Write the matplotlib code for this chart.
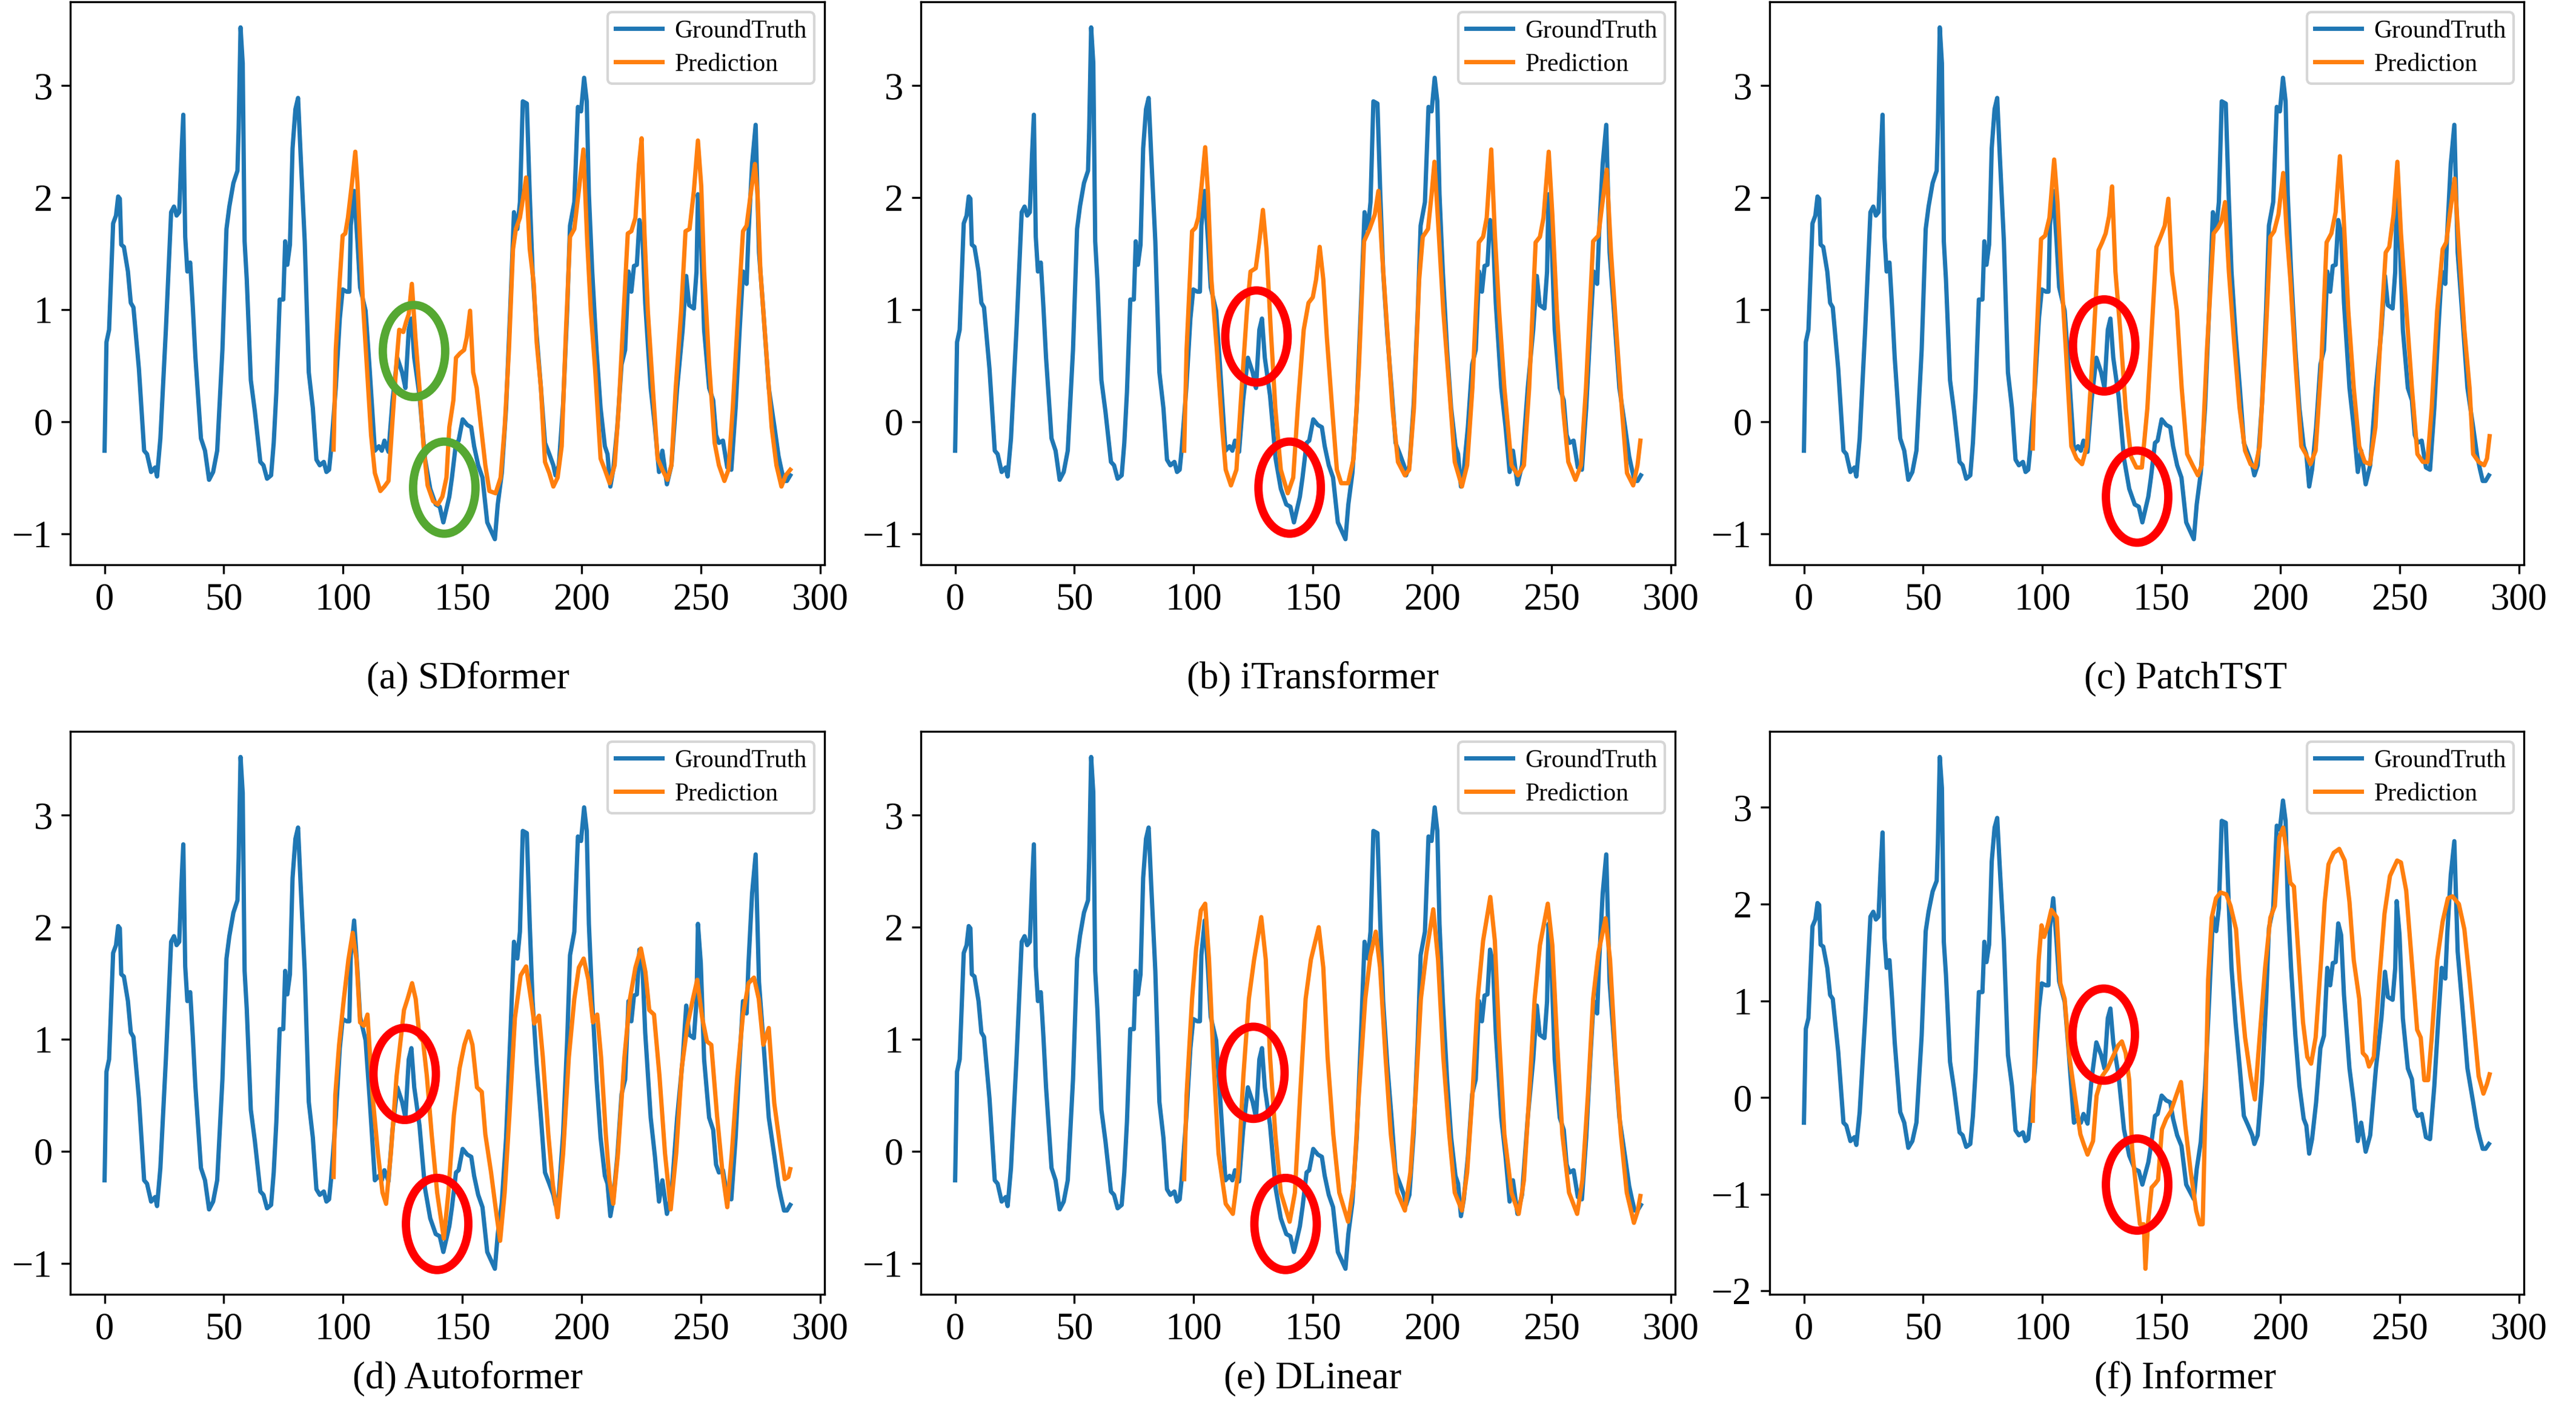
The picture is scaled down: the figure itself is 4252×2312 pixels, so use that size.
import matplotlib
matplotlib.use("Agg")
import matplotlib.pyplot as plt
from matplotlib.patches import Ellipse

# Times-like serif for everything
plt.rcParams['font.family'] = ['Liberation Serif', 'DejaVu Serif']

ground_truth = [
    (0, -0.26), (0.8, 0.71), (1.9, 0.82), (3.6, 1.77), (4.8, 1.84), (5.7, 2.01), (6.4, 1.99),
    (7, 1.58), (8.1, 1.56), (9.8, 1.34), (11, 1.06), (12.1, 1.02), (14.4, 0.47), (16.6, -0.26),
    (17.8, -0.29), (19.5, -0.45), (21.2, -0.41), (22, -0.49), (23.4, -0.15), (25.7, 0.82),
    (27.9, 1.87), (29.1, 1.92), (30.2, 1.84), (31.3, 1.87), (32.2, 2.37), (33, 2.74), (33.8, 1.65),
    (34.7, 1.34), (35.9, 1.42), (37, 1.02), (38.1, 0.57), (40.4, -0.15), (42.1, -0.26),
    (43.8, -0.52), (45.5, -0.45), (47.2, -0.26), (49.4, 0.64), (51.1, 1.72), (52.3, 1.92),
    (54, 2.13), (55.7, 2.24), (56.2, 2.62), (57, 3.52), (57.9, 3.2), (58.7, 1.61), (59.6, 1.27),
    (61.3, 0.37), (63, 0.09), (65.3, -0.36), (66.6, -0.39), (68.1, -0.51), (69.8, -0.48),
    (70.9, -0.19), (72, 0.26), (73.4, 1.09), (74.9, 1.09), (75.7, 1.61), (76.6, 1.4), (77.7, 1.58),
    (78.8, 2.44), (80, 2.79), (81.1, 2.89), (82.2, 2.37), (83.9, 1.61), (85.6, 0.44), (87.3, 0.12),
    (88.8, -0.34), (90.2, -0.39), (91.9, -0.36), (93, -0.45), (94.1, -0.43), (94.9, -0.26),
    (96.9, 0.3), (98.6, 0.92), (99.8, 1.18), (101.5, 1.16), (102.6, 1.16), (103.2, 1.75),
    (104.6, 2.06), (106, 1.61), (107.1, 1.2), (109.4, 0.99), (111.1, 0.47), (113.3, -0.26),
    (115, -0.22), (116.2, -0.26), (117.3, -0.17), (119, -0.27), (120.7, 0.19), (122.7, 0.57),
    (124.7, 0.44), (126.1, 0.3), (127.5, 0.82), (128.6, 0.92), (129.8, 0.57), (132, 0.23),
    (134.3, -0.33), (136.5, -0.6), (138.8, -0.74), (140.5, -0.76), (142, -0.9), (143.3, -0.78),
    (144.5, -0.67), (145.6, -0.5), (147.3, -0.19), (148.4, -0.17), (150.1, 0.02), (152, -0.03),
    (153.7, -0.05), (154.9, -0.22), (156.6, -0.39), (158.4, -0.5), (160.4, -0.9), (161.9, -0.97),
    (163.6, -1.05), (164.8, -0.74), (166.5, -0.46), (168.3, 0.12), (170, 0.99), (171.6, 1.87),
    (173, 1.72), (174.1, 1.96), (175.3, 2.86), (177, 2.84), (178.2, 2.03), (179.4, 1.34),
    (181.1, 0.78), (182.9, 0.3), (184.6, -0.19), (186.4, -0.29), (188.1, -0.39), (189, -0.48),
    (190.4, -0.39), (192.2, 0.16), (193.9, 0.99), (195.1, 1.75), (196.9, 1.96), (198.4, 2.81),
    (199.7, 2.77), (201, 3.07), (202.1, 2.86), (203, 2.03), (204.4, 1.34), (206.2, 0.64),
    (207.9, 0.12), (209.7, -0.22), (210.8, -0.29), (212, -0.58), (213.2, -0.43), (214.9, -0.05),
    (216.7, 0.51), (218.2, 0.64), (219.6, 1.34), (220.8, 1.16), (221.9, 1.39), (223.1, 1.4),
    (224.2, 1.8), (225.4, 1.68), (226.6, 1.06), (228.9, 0.3), (230.7, -0.05), (232.4, -0.45),
    (233.8, -0.26), (235.7, -0.56), (237.6, -0.39), (240, 0.3), (242.3, 0.82), (243.8, 1.3),
    (245, 1.04), (247, 1.01), (248.1, 1.34), (248.7, 2.03), (249.9, 1.68), (251.3, 0.82),
    (253.4, 0.3), (255.1, 0.19), (256.3, -0.12), (257.5, -0.19), (259.2, -0.17), (261, -0.41),
    (262.7, -0.43), (264.5, 0.12), (266.2, 0.82), (267.6, 1.34), (269.1, 1.23), (269.9, 1.68),
    (271.4, 2.3), (272.9, 2.65), (274.3, 1.51), (276.1, 0.99), (278.4, 0.3), (280.8, -0.05),
    (282.5, -0.31), (283.7, -0.43), (284.8, -0.53), (286, -0.53), (287.4, -0.48),
]

# predictions of each model (start at step 96)
sdformer = [
    (96, -0.25), (96.9, 0.64), (98.6, 1.27), (99.8, 1.66), (100.9, 1.68), (102, 1.82), (103.7, 2.13),
    (105.1, 2.41), (106, 2.13), (107.1, 1.61), (108.3, 1.06), (110, 0.47), (111.7, -0.12),
    (113.3, -0.46), (115.6, -0.62), (117.3, -0.58), (119, -0.53), (120.5, -0.05), (122.4, 0.54),
    (123.5, 0.82), (125.2, 0.8), (126.4, 0.89), (127.5, 0.96), (128.8, 1.23), (130.3, 0.75),
    (132, 0.3), (133.7, -0.22), (135.4, -0.57), (137.7, -0.71), (139.7, -0.74), (141.6, -0.67),
    (143.3, -0.5), (144.5, -0.05), (146.2, 0.19), (147.3, 0.57), (149, 0.61), (150.7, 0.64),
    (151.8, 0.75), (153.2, 0.99), (154.5, 0.44), (156, 0.3), (157.8, -0.05), (159.6, -0.39),
    (161.3, -0.62), (163.9, -0.64), (166, -0.5), (167.7, -0.05), (169.5, 0.64), (171.2, 1.54),
    (172.4, 1.72), (174.1, 1.82), (175.9, 2.06), (176.7, 2.18), (178.2, 1.54), (179.9, 1.23),
    (181.1, 0.71), (182.9, 0.3), (184.6, -0.36), (186.4, -0.46), (188.1, -0.58), (189.9, -0.5),
    (191.6, -0.22), (193.4, 0.82), (195.1, 1.65), (196.9, 1.72), (198.6, 2.03), (200.7, 2.43),
    (202.3, 1.61), (203.8, 0.99), (205.6, 0.47), (207.9, -0.33), (209.7, -0.43), (211.7, -0.55),
    (213.8, -0.39), (215.5, 0.12), (217.2, 0.82), (219.3, 1.68), (220.8, 1.7), (222.5, 1.82),
    (224, 2.3), (225.1, 2.53), (226.3, 1.68), (227.7, 0.99), (229.8, 0.3), (231.8, -0.33),
    (233.8, -0.43), (235.9, -0.52), (237.6, -0.39), (239.4, 0.3), (241.7, 0.99), (243.5, 1.7),
    (245.2, 1.72), (247, 2.06), (248.7, 2.51), (250.1, 2.1), (251.3, 1.34), (253.4, 0.51),
    (255.7, -0.19), (257.5, -0.39), (259.8, -0.53), (261.5, -0.43), (263.3, 0.12), (265.6, 0.99),
    (267.6, 1.7), (269.1, 1.75), (270.8, 2.03), (272.6, 2.3), (273.7, 2.03), (274.9, 1.34),
    (277.3, 0.64), (279.6, -0.05), (281.6, -0.39), (283.7, -0.58), (285.5, -0.48), (287.4, -0.43),
]

itransformer = [
    (96, -0.26), (97, 0.64), (99.3, 1.7), (100.7, 1.73), (101.9, 1.82), (103.4, 2.13), (104.8, 2.45),
    (106, 2.03), (107.4, 1.27), (109.7, 0.64), (111.9, -0.05), (113.4, -0.43), (115.6, -0.57),
    (117.9, -0.43), (120.1, 0.3), (122.3, 0.99), (123.8, 1.34), (126, 1.37), (127.5, 1.61),
    (129, 1.89), (130.5, 1.54), (132.3, 0.82), (134.2, 0.12), (136.5, -0.43), (139.4, -0.64),
    (141.7, -0.5), (143.6, 0.12), (146.1, 0.82), (148.1, 1.06), (149.9, 1.11), (151.3, 1.27),
    (152.8, 1.56), (154.3, 1.27), (155.8, 0.75), (158, 0.12), (160, -0.43), (161.8, -0.55),
    (164.7, -0.55), (167, -0.33), (169.2, 0.47), (171.4, 1.61), (173.7, 1.72), (175.9, 1.85),
    (177.4, 2.06), (178.9, 1.51), (181.1, 0.82), (183.3, 0.12), (185.6, -0.36), (188.5, -0.48),
    (190.3, -0.43), (192.3, 0.12), (194.5, 1.27), (196, 1.65), (198.2, 1.72), (199.7, 2.03),
    (200.9, 2.32), (202.7, 1.68), (204.6, 0.99), (207.1, 0.3), (209.4, -0.36), (212.4, -0.58),
    (214.6, -0.39), (216.8, 0.3), (219.5, 1.6), (221.3, 1.65), (222.8, 1.82), (224.7, 2.43),
    (226.2, 1.68), (228, 0.99), (230.2, 0.3), (233.2, -0.39), (235.9, -0.48), (238.4, -0.39),
    (240.6, 0.3), (243.3, 1.6), (245.1, 1.65), (246.6, 1.82), (248.8, 2.41), (250.3, 1.85),
    (252.2, 0.99), (254.8, 0.12), (257, -0.36), (260, -0.52), (262.3, -0.39), (264.4, 0.3),
    (267.4, 1.61), (269.6, 1.66), (271.1, 1.92), (273.1, 2.25), (274.9, 1.51), (277.1, 0.82),
    (279.4, 0.12), (281.6, -0.46), (284.2, -0.57), (286, -0.39), (287.2, -0.17),
]

patchtst = [
    (96, -0.24), (97, 0.47), (99.5, 1.63), (101.2, 1.66), (103, 1.82), (105, 2.34), (106.4, 1.96),
    (107.9, 1.34), (109.9, 0.64), (112.2, -0.22), (114.4, -0.33), (116.7, -0.38), (118.7, -0.22),
    (121.3, 0.64), (123.6, 1.53), (125.1, 1.6), (126.6, 1.68), (128.1, 1.84), (129.3, 2.1),
    (130.7, 1.34), (132.7, 0.82), (135, 0.12), (137.2, -0.31), (139.5, -0.41), (141.8, -0.41),
    (144.1, 0.12), (146.4, 0.99), (147.9, 1.56), (149.8, 1.66), (151.4, 1.75), (152.9, 1.99),
    (154.4, 1.34), (156.5, 0.99), (158.5, 0.3), (160.8, -0.29), (163.1, -0.39), (165.3, -0.48),
    (166.9, -0.39), (169.1, 0.64), (171.9, 1.68), (173.7, 1.73), (175.2, 1.79), (176.7, 1.96),
    (178.3, 1.34), (180.5, 0.71), (182.8, 0.12), (185.1, -0.26), (187.4, -0.38), (189.4, -0.41),
    (191.2, -0.22), (193.5, 0.64), (195.7, 1.65), (197.3, 1.7), (199.1, 1.85), (201.1, 2.22),
    (202.6, 1.68), (204.1, 1.27), (206.4, 0.47), (208.7, -0.22), (210.6, -0.29), (212.5, -0.38),
    (214.7, -0.26), (217, 0.47), (219.3, 1.6), (221.3, 1.68), (223.1, 1.87), (224.9, 2.37),
    (226.4, 1.85), (228.4, 0.99), (230.7, 0.3), (233, -0.22), (235.3, -0.36), (237.5, -0.38),
    (239.8, -0.05), (242.1, 0.82), (244.1, 1.51), (245.6, 1.56), (247.4, 1.85), (249, 2.32),
    (250.5, 1.68), (252.8, 0.99), (255.1, 0.3), (257.4, -0.29), (259.7, -0.36), (261.6, -0.36),
    (263.4, 0.12), (265.7, 0.99), (268, 1.54), (269.5, 1.6), (271, 1.85), (273, 2.17),
    (274.8, 1.58), (277.1, 0.82), (279.3, 0.3), (280.8, -0.29), (283.1, -0.36), (285.4, -0.39),
    (286.6, -0.33), (287.7, -0.13),
]

autoformer = [
    (96, -0.23), (96.7, 0.5), (98.3, 0.95), (100.3, 1.36), (102.2, 1.71), (104, 1.95), (105.6, 1.71),
    (107.1, 1.15), (108.7, 1.12), (110.2, 1.22), (112.3, 0.5), (114.6, -0.02), (116.5, -0.37),
    (118, -0.47), (120, -0.02), (122.4, 0.67), (125.5, 1.26), (127, 1.36), (128.9, 1.5),
    (130.4, 1.36), (132, 1.02), (133.5, 0.98), (135.1, 0.67), (137.1, 0.15), (139.4, -0.37),
    (142.2, -0.78), (144.1, -0.37), (146.4, 0.32), (148.8, 0.74), (150.8, 0.95), (152.6, 1.07),
    (154.2, 0.95), (156.1, 0.57), (158.1, 0.53), (159.6, 0.15), (162, -0.19), (164.3, -0.57),
    (165.8, -0.8), (167.7, -0.37), (169.7, 0.32), (172, 1.19), (174.4, 1.57), (176.7, 1.65),
    (178.7, 1.36), (180.1, 1.14), (182.1, 1.21), (183.7, 0.84), (186, 0.15), (187.9, -0.3),
    (189.9, -0.59), (192.2, -0.02), (194.6, 0.84), (196.9, 1.36), (198.8, 1.64), (200.8, 1.72),
    (202.8, 1.53), (204.7, 1.15), (206.5, 1.22), (208.1, 0.84), (210.1, 0.15), (211.6, -0.26),
    (213.2, -0.47), (215.2, -0.02), (217.9, 0.84), (220.2, 1.36), (222.5, 1.64), (224.8, 1.81),
    (226.7, 1.6), (228.3, 1.26), (230.3, 1.22), (232.6, 0.67), (234.9, -0.02), (237.3, -0.52),
    (239.6, -0.02), (241.9, 0.74), (244.3, 1.12), (246.6, 1.36), (248.4, 1.53), (250.5, 1.19),
    (252.5, 0.98), (254.3, 0.95), (256.7, 0.32), (259, -0.19), (261, -0.5), (262.9, -0.02),
    (265.2, 0.67), (267.6, 1.22), (269.9, 1.5), (272.2, 1.55), (274.2, 1.36), (276.1, 0.95),
    (278.4, 1.1), (280.7, 0.43), (283.1, 0.05), (285.1, -0.25), (286.6, -0.23), (287.4, -0.16),
]

dlinear = [
    (96, -0.25), (97, 0.5), (99.3, 1.36), (101, 1.81), (103, 2.15), (104.8, 2.21), (106.4, 1.71),
    (108.2, 0.84), (110.4, -0.02), (113.4, -0.47), (116.4, -0.56), (118.6, -0.19), (120.8, 0.67),
    (123.1, 1.36), (125.3, 1.71), (128.3, 2.09), (130.2, 1.71), (132, 0.84), (134.2, 0.15),
    (136.5, -0.37), (140.2, -0.63), (142.4, -0.37), (144.6, 0.5), (146.9, 1.36), (149.1, 1.71),
    (152.4, 2.0), (154.3, 1.64), (156.1, 0.84), (158.5, 0.15), (161, -0.37), (164.7, -0.63),
    (167, -0.3), (169.2, 0.5), (171.9, 1.36), (174, 1.74), (176.3, 1.96), (178.1, 1.64),
    (180.4, 0.84), (182.6, 0.15), (185.3, -0.37), (188.5, -0.53), (190.8, -0.19), (193, 0.5),
    (195.2, 1.36), (197.5, 1.77), (200.4, 2.16), (202.4, 1.71), (204.6, 0.84), (207.1, 0.15),
    (209.4, -0.37), (212.4, -0.53), (214.6, -0.19), (216.8, 0.5), (219, 1.36), (221.3, 1.88),
    (224.3, 2.27), (226.2, 1.88), (228, 1.02), (230.2, 0.15), (233.2, -0.37), (236.2, -0.56),
    (238.4, -0.26), (240.6, 0.5), (242.9, 1.36), (245.1, 1.84), (248.4, 2.21), (250.3, 1.84),
    (252.2, 1.02), (254.5, 0.15), (257.3, -0.37), (260.7, -0.56), (262.9, -0.26), (265.2, 0.5),
    (267.4, 1.36), (269.6, 1.77), (272.6, 2.08), (274.5, 1.71), (276.8, 0.84), (279, 0.15),
    (281.5, -0.37), (284.5, -0.64), (286, -0.54), (287.2, -0.4),
]

informer = [
    (96, -0.24), (97, 0.62), (98.5, 1.42), (99.7, 1.78), (100.8, 1.66), (102.3, 1.78), (103.8, 1.94),
    (106.1, 1.86), (107.6, 1.18), (109.4, 1.02), (111.4, 0.42), (113.7, 0.02), (116, -0.38),
    (117.5, -0.49), (119, -0.59), (121.3, -0.45), (122.8, 0.02), (125.1, 0.22), (127.4, 0.3),
    (129.6, 0.42), (131.9, 0.54), (133.4, 0.58), (135, 0.46), (136.5, 0.18), (137.7, -0.53),
    (139.5, -0.97), (141, -1.31), (142.6, -1.31), (143.3, -1.77), (144.4, -1.29), (145.9, -0.93),
    (147.4, -0.89), (148.6, -0.85), (150.2, -0.33), (152, -0.22), (154, -0.14), (156.2, 0.02),
    (158.2, 0.16), (160, -0.29), (162.3, -0.77), (164.6, -1.17), (166.1, -1.31), (167.3, -1.31),
    (168.4, -0.18), (169.6, 1.22), (171.1, 1.86), (172.9, 2.06), (174.8, 2.12), (177.2, 2.1),
    (179, 1.98), (181.3, 1.74), (182.8, 1.22), (185.1, 0.62), (187.4, 0.22), (189.2, -0.02),
    (191.2, 0.62), (193.5, 1.34), (195.7, 1.86), (197.6, 1.98), (199.5, 2.69), (201.1, 2.79),
    (202.6, 2.53), (204.1, 2.22), (205.6, 2.18), (207.1, 1.62), (209.4, 0.78), (211.2, 0.42),
    (212.8, 0.35), (214.7, 0.62), (217, 1.42), (218.5, 2.02), (220.1, 2.41), (222.3, 2.53),
    (224.6, 2.57), (226.9, 2.45), (228.9, 2.02), (230.7, 1.42), (233, 1.02), (234.5, 0.46),
    (236, 0.42), (237.1, 0.32), (239.1, 0.42), (241.4, 1.22), (243.6, 1.9), (245.9, 2.29),
    (248.9, 2.45), (250.5, 2.43), (252.7, 2.14), (255, 1.42), (257.3, 0.7), (258.8, 0.62),
    (260.3, 0.18), (261.9, 0.18), (263.4, 0.62), (265.7, 1.42), (268, 1.82), (270.2, 2.06),
    (272.1, 2.08), (274.8, 2.0), (277.1, 1.74), (279.3, 1.22), (281.6, 0.62), (283.1, 0.22),
    (285.1, 0.04), (286.6, 0.14), (287.7, 0.24),
]

captions = ['(a) SDformer', '(b) iTransformer', '(c) PatchTST',
            '(d) Autoformer', '(e) DLinear', '(f) Informer']
predictions = [sdformer, itransformer, patchtst, autoformer, dlinear, informer]

# highlighted spots: (x centre, y centre) of the two rings in each panel
rings = [
    [(129.7, 0.63), (142.4, -0.59)],
    [(126.3, 0.76), (140.2, -0.59)],
    [(126.0, 0.68), (139.8, -0.67)],
    [(125.8, 0.69), (139.4, -0.65)],
    [(125.0, 0.70), (138.5, -0.65)],
    [(125.8, 0.65), (139.8, -0.90)],
]
ring_colors = ['#55a832', 'red', 'red', 'red', 'red', 'red']

W, H = 4252, 2312
fig = plt.figure(figsize=(W / 300, H / 300), dpi=300)

col_left = [116, 1520, 2921]
row_top = [3, 1207]
ax_w, ax_h = 1245, 929
caption_x = [772, 2167, 3607]
caption_y = [1120, 2275]

gt_x = [p[0] for p in ground_truth]
gt_y = [p[1] for p in ground_truth]

for i in range(6):
    r, c = divmod(i, 3)
    ax = fig.add_axes([col_left[c] / W, 1 - (row_top[r] + ax_h) / H, ax_w / W, ax_h / H])
    pred = predictions[i]
    ax.plot(gt_x, gt_y, color='#1f77b4', lw=1.7, label='GroundTruth')
    ax.plot([p[0] for p in pred], [p[1] for p in pred], color='#ff7f0e', lw=1.7, label='Prediction')
    ax.tick_params(labelsize=15)
    ax.set_xticks([0, 50, 100, 150, 200, 250, 300])
    ax.legend(loc='upper right', fontsize=10, labelspacing=0.4, borderpad=0.3,
              handlelength=1.85, handletextpad=0.5, borderaxespad=0.4)

    # ring size in pixels converted to data units for this axes
    x0, x1 = ax.get_xlim()
    y0, y1 = ax.get_ylim()
    rw = 103 / ax_w * (x1 - x0)
    rh = 152 / ax_h * (y1 - y0)
    for cx, cy in rings[i]:
        ax.add_patch(Ellipse((cx, cy), rw, rh, fill=False, edgecolor=ring_colors[i], lw=3.3, zorder=5))

    fig.text(caption_x[c] / W, 1 - caption_y[r] / H, captions[i], fontsize=15,
             ha='center', va='center')

fig.savefig('out.png', dpi=300)
